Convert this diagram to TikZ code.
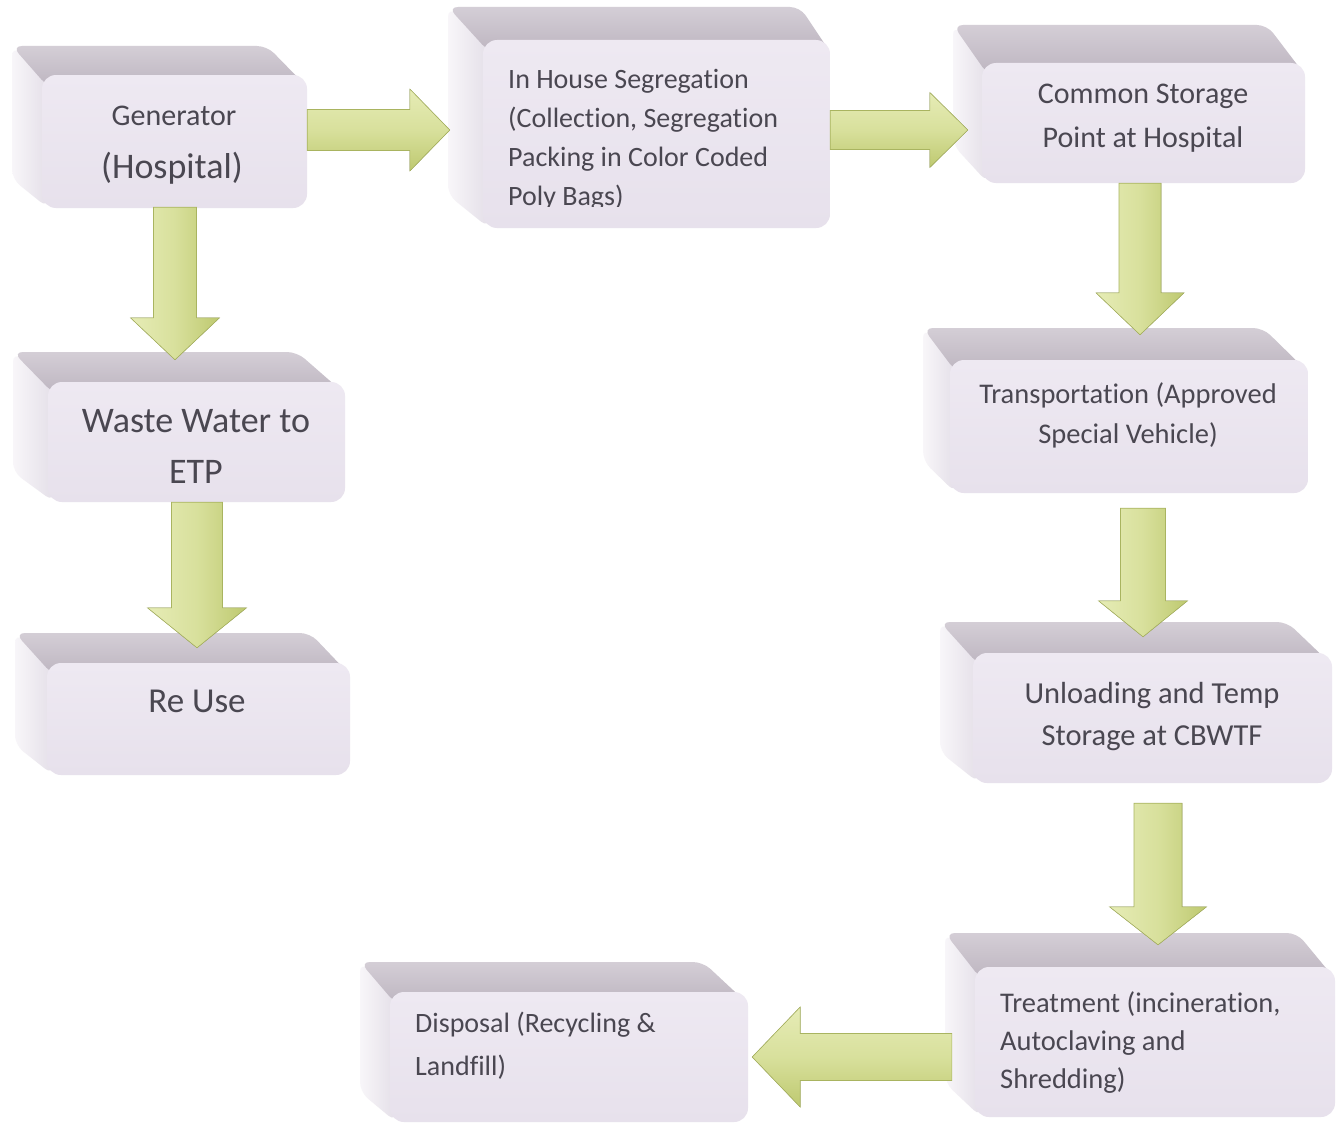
\documentclass[tikz,border=0pt]{standalone}
\usepackage{fontspec}
\setmainfont{Carlito}[Ligatures={NoCommon}]
\usetikzlibrary{calc,fit}
\definecolor{faceA}{HTML}{EEE9F2}
\definecolor{faceB}{HTML}{E7E1EC}
\definecolor{topA}{HTML}{D4CED6}
\definecolor{topB}{HTML}{BDB5C0}
\definecolor{sideA}{HTML}{F8F6F9}
\definecolor{sideB}{HTML}{E4DFE8}
\definecolor{txt}{HTML}{4A4751}
\definecolor{arrL}{HTML}{E6ECB6}
\definecolor{arrM}{HTML}{D8E09C}
\definecolor{arrR}{HTML}{BEC970}
\definecolor{arrE}{HTML}{A9B460}
\tikzset{
  face/.style={top color=faceA, bottom color=faceB, rounded corners=14pt, inner sep=0pt, draw=none},
  topface/.style={top color=topA, bottom color=topB, rounded corners=10pt},
  sideface/.style={left color=sideA, right color=sideB, rounded corners=10pt},
  lbl/.style={text=txt, inner sep=0pt},
  varr/.style={left color=arrL, right color=arrR, middle color=arrM, draw=arrE, line width=0.6pt},
  harr/.style={top color=arrL, bottom color=arrR, middle color=arrM, draw=arrE, line width=0.6pt},
}
% #1 name, #2 fx1, #3 fy1, #4 fx2, #5 fy2, #6 bx1, #7 by, #8 bx2
\newcommand\bevbox[8]{%
  \path[sideface] (#6,#7) -- (#2+6,#3) -- (#2+6,#5) -- (#6,#5-#3+#7) -- cycle;
  \path[topface] (#6,#7) -- (#8,#7) -- (#4,#3+12) -- (#2+6,#3+12) -- cycle;
  \node[face, fit={(#2,#3)(#4,#5)}] (#1) {};
}
% #1 from, #2 tip, #3 shaft half width, #4 head half width, #5 head length
\newcommand\downblk[5]{%
  \filldraw[varr] let \p1=(#1), \p2=(#2) in
    (\x2-#3pt,\y1) -- (\x2+#3pt,\y1) -- (\x2+#3pt,\y2+#5pt) -- (\x2+#4pt,\y2+#5pt)
    -- (\x2,\y2) -- (\x2-#4pt,\y2+#5pt) -- (\x2-#3pt,\y2+#5pt) -- cycle;}
\newcommand\rightblk[5]{%
  \filldraw[harr] let \p1=(#1), \p2=(#2) in
    (\x1,\y2+#3pt) -- (\x2-#5pt,\y2+#3pt) -- (\x2-#5pt,\y2+#4pt) -- (\x2,\y2)
    -- (\x2-#5pt,\y2-#4pt) -- (\x2-#5pt,\y2-#3pt) -- (\x1,\y2-#3pt) -- cycle;}
\newcommand\leftblk[5]{%
  \filldraw[harr] let \p1=(#1), \p2=(#2) in
    (\x1,\y2+#3pt) -- (\x2+#5pt,\y2+#3pt) -- (\x2+#5pt,\y2+#4pt) -- (\x2,\y2)
    -- (\x2+#5pt,\y2-#4pt) -- (\x2+#5pt,\y2-#3pt) -- (\x1,\y2-#3pt) -- cycle;}
\begin{document}
\begin{tikzpicture}[x=1pt,y=-1pt]
\useasboundingbox (0,0) rectangle (1343,1124);
\fill[white] (0,0) rectangle (1343,1124);

% boxes
\bevbox{gen}{42}{75}{307}{208}{12}{46}{267}
\bevbox{inh}{483}{40}{830}{228}{448}{7}{800}
\bevbox{com}{982}{63}{1305}{183}{953}{25}{1267}
\bevbox{tra}{950}{360}{1308}{493}{923}{328}{1263}
\bevbox{unl}{973}{653}{1332}{783}{940}{622}{1287}
\bevbox{trt}{975}{967}{1335}{1117}{945}{933}{1297}
\bevbox{dis}{390}{992}{748}{1122}{360}{962}{703}
\bevbox{wst}{48}{382}{345}{502}{13}{352}{297}
\bevbox{reu}{47}{663}{350}{775}{15}{633}{310}

% texts
\node[lbl, anchor=base, font=\fontsize{30}{36}\selectfont] (gen-t1) at (174,125) {Generator};
\node[lbl, anchor=base, font=\fontsize{36}{43}\selectfont] (gen-t2) at (172,178) {(Hospital)};
\begin{scope}
  \clip (470,0) rectangle (840,206);
  \node[lbl, anchor=north west, align=left, font=\fontsize{28}{39}\selectfont] (inh-t) at (508,60.7)
    {\strut In House Segregation\\(Collection, Segregation\\Packing in Color Coded\\Poly Bags)};
\end{scope}
\node[lbl, anchor=north, align=center, font=\fontsize{30}{44}\selectfont] (com-t) at (1143,72.2)
  {\strut Common Storage\\Point at Hospital};
\node[lbl, anchor=north, align=center, font=\fontsize{28.5}{40}\selectfont] (tra-t) at (1128,375)
  {\strut Transportation (Approved\\Special Vehicle)};
\node[lbl, anchor=north, align=center, font=\fontsize{30.5}{42}\selectfont] (unl-t) at (1152,673.6)
  {\strut Unloading and Temp\\Storage at CBWTF};
\node[lbl, anchor=north west, align=left, font=\fontsize{28.5}{38}\selectfont] (trt-t) at (1000,985.4)
  {\strut Treatment (incineration,\\Autoclaving and\\Shredding)};
\node[lbl, anchor=north west, align=left, font=\fontsize{28}{43}\selectfont] (dis-t) at (415,1001.9)
  {\strut Disposal (Recycling \&\\Landfill)};
\node[lbl, anchor=north, align=center, font=\fontsize{36}{51}\selectfont] (wst-t) at (196,396.3)
  {\strut Waste Water to\\ETP};
\node[lbl, anchor=base, font=\fontsize{35}{42}\selectfont] (reu-t) at (197,712) {Re Use};

% arrow end points
\coordinate (a1s) at ($(gen.east)+(0,-10)$);
\coordinate (a1e) at ($(inh.west)+(-33,-4)$);
\coordinate (a2s) at ($(inh.east)+(0,-3)$);
\coordinate (a2e) at ($(com.west)+(-14,7)$);
\coordinate (a3s) at ($(com.south)+(-4,0)$);
\coordinate (a3e) at ($(tra.north)+(11,-25)$);
\coordinate (a4s) at ($(tra.south)+(14,15)$);
\coordinate (a4e) at ($(unl.north)+(-9.5,-16)$);
\coordinate (a5s) at ($(unl.south)+(6,20)$);
\coordinate (a5e) at ($(trt.north)+(3,-22)$);
\coordinate (a6s) at ($(trt.west)+(-23,15)$);
\coordinate (a6e) at ($(dis.east)+(4,0)$);
\coordinate (a7s) at ($(gen.south)+(-1,-1)$);
\coordinate (a7e) at ($(wst.north)+(-21.5,-22)$);
\coordinate (a8s) at ($(wst.south)+(-4,0)$);
\coordinate (a8e) at ($(reu.north)+(-1.5,-15)$);

% arrows
\rightblk{a1s}{a1e}{20.5}{41}{40}
\rightblk{a2s}{a2e}{19.5}{37.5}{38}
\downblk{a3s}{a3e}{21}{44}{42}
\downblk{a4s}{a4e}{22.5}{44.5}{36}
\downblk{a5s}{a5e}{24}{48.5}{38}
\leftblk{a6s}{a6e}{23.5}{50}{48}
\downblk{a7s}{a7e}{21.5}{44.5}{42}
\downblk{a8s}{a8e}{25.5}{49.5}{40}
\end{tikzpicture}
\end{document}
